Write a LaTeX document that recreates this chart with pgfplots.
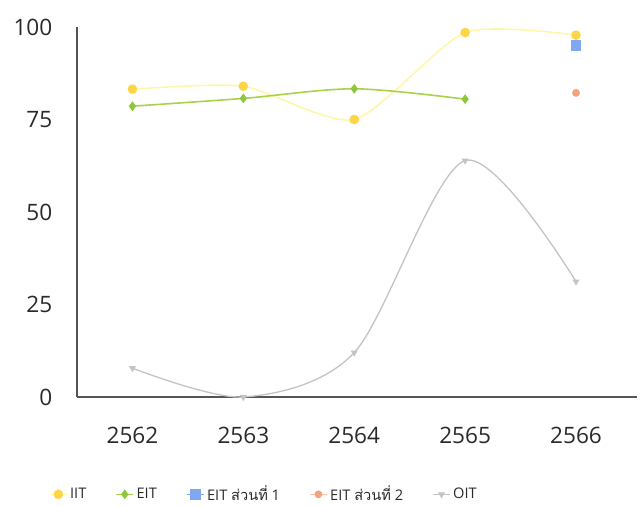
\documentclass[border=0pt]{standalone}
\usepackage{pgfplots}
\pgfplotsset{compat=1.18}
\usepackage{fontspec}
\setmainfont{Open Sans}
\newfontfamily\thaifont[Script=Thai]{Loma}
\definecolor{iitline}{HTML}{FFF7A8}
\definecolor{iitmark}{HTML}{FDD548}
\definecolor{eitline}{HTML}{A8D24A}
\definecolor{eitmark}{HTML}{8DC63F}
\definecolor{eitone}{HTML}{7FA8F0}
\definecolor{eittwo}{HTML}{F3A47C}
\definecolor{oit}{HTML}{C4C4C4}
\definecolor{axisgray}{HTML}{555555}
\definecolor{textgray}{HTML}{2A2A2A}
\begin{document}
\begin{tikzpicture}
% page size as in the reference, axis at the origin
\useasboundingbox (-57.75bp,-81.75bp) rectangle (423bp,297.75bp);
\begin{axis}[
    at={(0,0)}, anchor=south west,
    scale only axis,
    width=420bp, height=277.5bp,
    xmin=-0.5, xmax=4.55,
    ymin=0, ymax=100,
    axis x line=bottom, axis y line=left,
    axis line style={axisgray, line width=1.3pt, -},
    xtick={0,1,2,3,4},
    xticklabels={2562,2563,2564,2565,2566},
    ytick={0,25,50,75,100},
    major tick length=0pt,
    tick label style={font=\fontsize{17}{20}\selectfont, text=textgray},
    xticklabel style={yshift=-19bp},
    yticklabel style={xshift=-15bp},
    /pgf/number format/assume math mode=true,
    clip=false,
    legend image code/.code={
        \draw[mark repeat=2, mark phase=2]
        plot coordinates {(0cm,0cm) (0.22cm,0cm) (0.44cm,0cm)};},
    legend style={
        at={(0,0)}, anchor=west, xshift=-24bp, yshift=-73bp,
        draw=none, fill=none,
        legend columns=-1,
        font=\fontsize{11}{13}\selectfont\color{textgray},
        /tikz/every even column/.append style={column sep=20bp}
    },
]
\addplot[iitline, line width=1.2pt, smooth, tension=0.4, mark=*, mark size=3pt,
    mark options={iitmark, fill=iitmark}]
    coordinates {(0,83.2) (1,84) (2,75) (3,98.5) (4,97.8)};
\addlegendentry{IIT}
\addplot[eitline, line width=1.2pt, smooth, mark=diamond*, mark size=2.7pt,
    mark options={eitmark, fill=eitmark}]
    coordinates {(0,78.6) (1,80.7) (2,83.3) (3,80.5)};
\addlegendentry{EIT}
\addplot[eitone, line width=1.2pt, mark=square*, mark size=3.5pt,
    mark options={eitone, fill=eitone}]
    coordinates {(4,95)};
\addlegendentry{EIT {\thaifont ส่วนที่} 1}
\addplot[eittwo!60, line width=1.2pt, mark=*, mark size=2.3pt,
    mark options={eittwo, fill=eittwo}]
    coordinates {(4,82.2)};
\addlegendentry{EIT {\thaifont ส่วนที่} 2}
\addplot[oit, line width=1pt, smooth, tension=0.5, mark=triangle*, mark size=2.1pt,
    mark options={oit, fill=oit, rotate=180}]
    coordinates {(0,7.8) (1,0) (2,12) (3,63.9) (4,31.2)};
\addlegendentry{OIT}
\end{axis}
\end{tikzpicture}
\end{document}
